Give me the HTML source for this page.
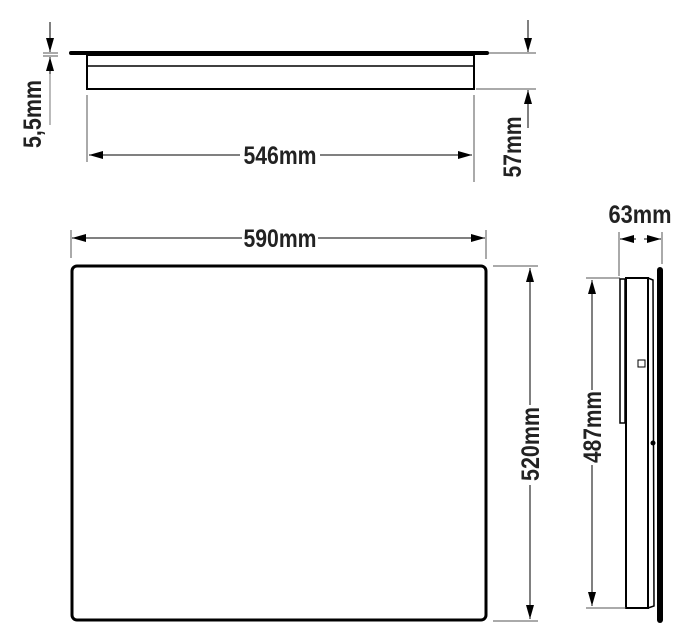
<!DOCTYPE html>
<html><head><style>html,body{margin:0;padding:0;background:#fff}svg{display:block}</style></head>
<body>
<svg width="681" height="630" viewBox="0 0 681 630" xmlns="http://www.w3.org/2000/svg">
<defs>
<marker id="a" viewBox="0 0 14 8" refX="14" refY="4" markerWidth="14" markerHeight="8" markerUnits="userSpaceOnUse" orient="auto-start-reverse"><path d="M0,0L14,4L0,8z" fill="#000"/></marker>
</defs>
<g font-family="Liberation Sans, sans-serif" font-weight="bold" font-size="25" fill="#222">
<!-- top view -->
<line x1="71" y1="53" x2="487" y2="53" stroke="#000" stroke-width="4" stroke-linecap="round"/>
<rect x="87" y="55" width="387" height="34" fill="none" stroke="#000" stroke-width="2"/>
<line x1="87" y1="66" x2="474" y2="66" stroke="#000" stroke-width="1.5"/>
<g stroke="#555" stroke-width="1">
<line x1="87" y1="95" x2="87" y2="162"/>
<line x1="474" y1="95" x2="474" y2="182"/>
<line x1="489" y1="53" x2="536" y2="53"/>
<line x1="476" y1="89" x2="536" y2="89"/>
<line x1="43" y1="53" x2="58" y2="53"/>
<line x1="43" y1="56" x2="58" y2="56"/>
</g>
<g stroke="#000" stroke-width="1">
<line x1="89" y1="155" x2="240" y2="155" marker-start="url(#a)"/>
<line x1="320" y1="155" x2="472" y2="155" marker-end="url(#a)"/>
<line x1="50" y1="22" x2="50" y2="52" marker-end="url(#a)"/>
<line x1="50" y1="74" x2="50" y2="57" marker-end="url(#a)"/>
<line x1="50" y1="74" x2="50" y2="125" stroke="#777"/>
<line x1="528" y1="20" x2="528" y2="52" marker-end="url(#a)"/>
<line x1="528" y1="107" x2="528" y2="90" marker-end="url(#a)"/>
<line x1="528" y1="107" x2="528" y2="128"/>
</g>
<text x="280" y="164" text-anchor="middle" textLength="73" lengthAdjust="spacingAndGlyphs">546mm</text>
<text transform="translate(41,114) rotate(-90)" text-anchor="middle" textLength="68" lengthAdjust="spacingAndGlyphs">5,5mm</text>
<text transform="translate(521,147) rotate(-90)" text-anchor="middle" textLength="61" lengthAdjust="spacingAndGlyphs">57mm</text>
<!-- front view -->
<rect x="72" y="266" width="414" height="354" rx="5" fill="none" stroke="#000" stroke-width="3"/>
<g stroke="#555" stroke-width="1">
<line x1="71" y1="230" x2="71" y2="258"/>
<line x1="486" y1="230" x2="486" y2="259"/>
<line x1="493" y1="266" x2="538" y2="266"/>
<line x1="493" y1="621" x2="538" y2="621"/>
</g>
<g stroke="#000" stroke-width="1">
<line x1="72" y1="238" x2="242" y2="238" marker-start="url(#a)"/>
<line x1="318" y1="238" x2="485" y2="238" marker-end="url(#a)"/>
<line x1="530" y1="268" x2="530" y2="405" marker-start="url(#a)"/>
<line x1="530" y1="485" x2="530" y2="619" marker-end="url(#a)"/>
</g>
<text x="280" y="247" text-anchor="middle" textLength="73" lengthAdjust="spacingAndGlyphs">590mm</text>
<text transform="translate(539,444) rotate(-90)" text-anchor="middle" textLength="74" lengthAdjust="spacingAndGlyphs">520mm</text>
<!-- side view -->
<rect x="620" y="279" width="5" height="144" fill="none" stroke="#000" stroke-width="1.5"/>
<rect x="626" y="278" width="22" height="330" fill="none" stroke="#000" stroke-width="2"/>
<path d="M648,278 L653,280 L654,606 L648,608" fill="none" stroke="#000" stroke-width="1.5"/>
<rect x="638" y="360" width="7" height="7" fill="none" stroke="#000" stroke-width="1"/>
<circle cx="653" cy="443" r="2.5" fill="#000"/>
<rect x="657" y="267" width="6" height="356" rx="3" fill="#000"/>
<g stroke="#555" stroke-width="1">
<line x1="619" y1="232" x2="619" y2="276"/>
<line x1="662" y1="232" x2="662" y2="264"/>
<line x1="586" y1="278" x2="620" y2="278"/>
<line x1="586" y1="608" x2="626" y2="608"/>
</g>
<g stroke="#000" stroke-width="1">
<line x1="620" y1="239" x2="636" y2="239" marker-start="url(#a)"/>
<line x1="644" y1="239" x2="661" y2="239" marker-end="url(#a)"/>
<line x1="592" y1="280" x2="592" y2="390" marker-start="url(#a)"/>
<line x1="592" y1="465" x2="592" y2="606" marker-end="url(#a)"/>
</g>
<text x="640" y="223" text-anchor="middle" textLength="63" lengthAdjust="spacingAndGlyphs">63mm</text>
<text transform="translate(601,427) rotate(-90)" text-anchor="middle" textLength="72" lengthAdjust="spacingAndGlyphs">487mm</text>
</g>
</svg>
</body></html>
